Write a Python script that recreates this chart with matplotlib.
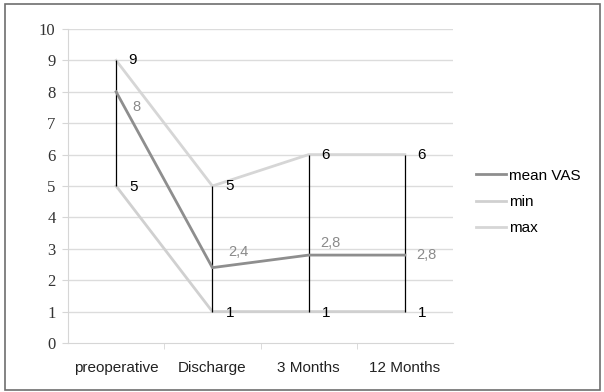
import matplotlib
matplotlib.use("Agg")
import matplotlib.pyplot as plt
from matplotlib.patches import Rectangle
import numpy as np

# VAS pain scores over follow-up
categories = ["preoperative", "Discharge", "3 Months", "12 Months"]
mean_vas = [8, 2.4, 2.8, 2.8]
min_vas = [5, 1, 1, 1]
max_vas = [9, 5, 6, 6]
mean_labels = ["8", "2,4", "2,8", "2,8"]

W, H = 604, 392
fig = plt.figure(figsize=(W / 100, H / 100), dpi=100)
fig.patch.set_facecolor("white")

# outer frame
fig.patches.append(Rectangle((5 / W, 2 / H), 595 / W, 386 / H,
                             transform=fig.transFigure, fill=False,
                             edgecolor="#6e6e6e", linewidth=1.2))

ax = fig.add_axes([68 / W, 49 / H, 385 / W, 314 / H])
x = np.arange(len(categories))

ax.set_xlim(-0.5, len(categories) - 0.5)
ax.set_ylim(0, 10)
ax.set_yticks(range(0, 11))
for v in range(1, 11):
    ax.axhline(v, color="#dcdcdc", linewidth=1, zorder=0)

for s in ["top", "right"]:
    ax.spines[s].set_visible(False)
ax.spines["left"].set_color("#d6d6d6")
ax.spines["bottom"].set_color("#d6d6d6")
ax.tick_params(axis="y", length=4, color="#d6d6d6", pad=5, labelsize=12)
ax.tick_params(axis="x", length=0, pad=13, labelsize=11)
for lab in ax.get_yticklabels():
    lab.set_family("Liberation Serif")
    lab.set_color("#333333")
ax.set_xticks(x)
ax.set_xticklabels(categories, family="Liberation Sans", color="#222222")
# small separators between categories on the bottom axis
ax.set_xticks(x[:-1] + 0.5, minor=True)
ax.tick_params(axis="x", which="minor", length=4, color="#d6d6d6")

# high-low lines
ax.vlines(x, min_vas, max_vas, color="black", linewidth=0.9, zorder=3)

ax.plot(x, mean_vas, color="#8e8e8e", linewidth=2, label="mean VAS", zorder=4)
ax.plot(x, min_vas, color="#d0d0d0", linewidth=2, label="min", zorder=2)
ax.plot(x, max_vas, color="#d6d6d6", linewidth=2, label="max", zorder=2)

for xi, v in zip(x, max_vas):
    ax.annotate(str(v), (xi, v), xytext=(9, 0), textcoords="offset points",
                va="center", ha="left", fontsize=11, family="Liberation Sans",
                color="black")
for xi, v in zip(x, min_vas):
    ax.annotate(str(v), (xi, v), xytext=(9.5, -1), textcoords="offset points",
                va="center", ha="left", fontsize=11, family="Liberation Sans",
                color="black")

mean_offsets = [(12, -11), (11.5, 11), (8.5, 8.5), (8.5, 0)]
for xi, v, t, off in zip(x, mean_vas, mean_labels, mean_offsets):
    ax.annotate(t, (xi, v), xytext=off, textcoords="offset points",
                va="center", ha="left", fontsize=10.5, family="Liberation Sans",
                color="#8a8a8a")

fig.legend(loc="upper left", bbox_to_anchor=(462 / W, 1 - 155 / H),
           frameon=False, handlelength=2.0, handletextpad=0.15,
           labelspacing=0.8, prop={"family": "Liberation Sans", "size": 11})

fig.savefig("out.png", dpi=100)
